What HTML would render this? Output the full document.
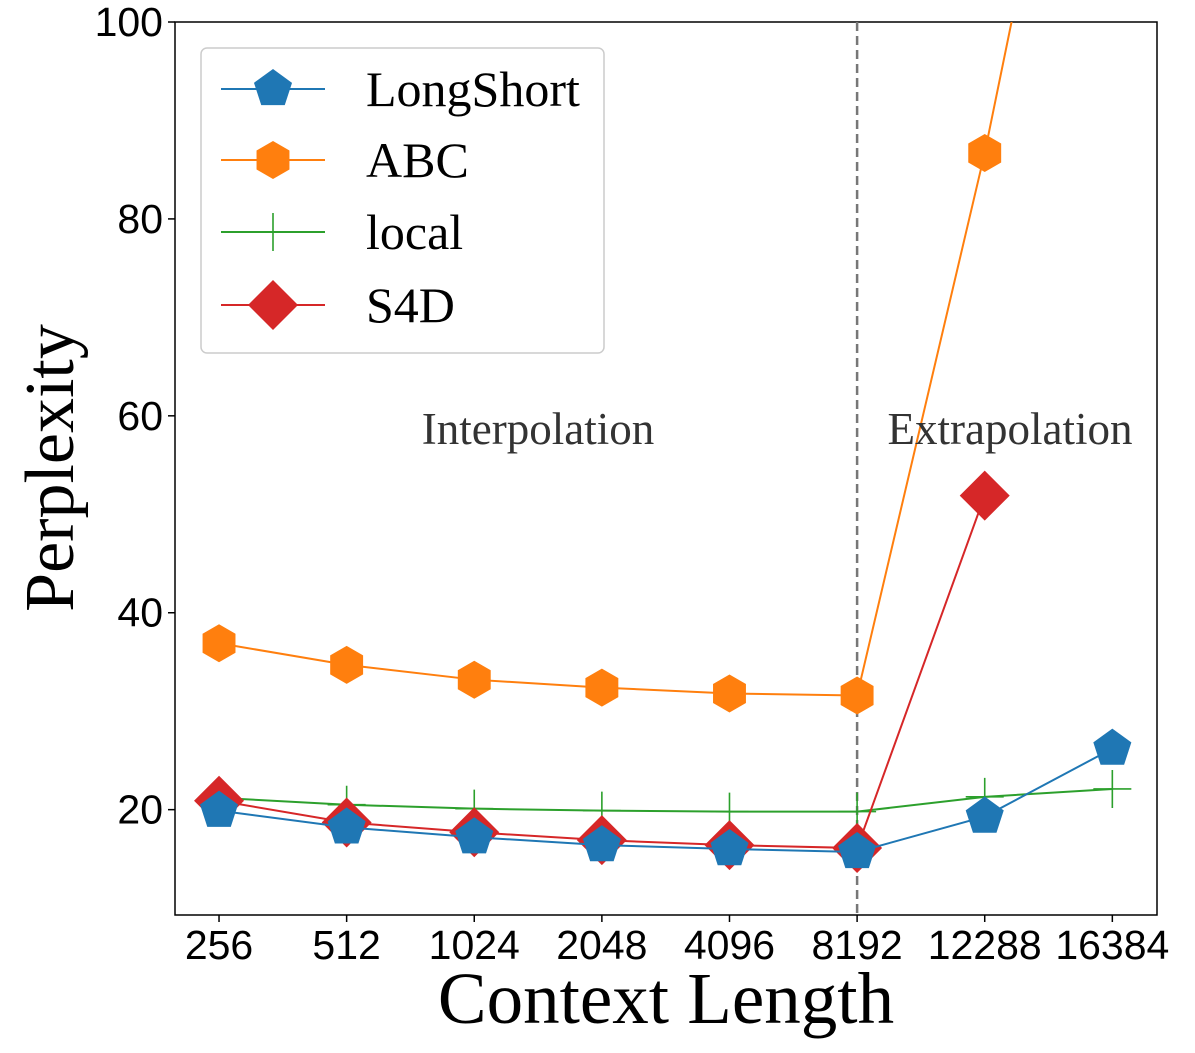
<!DOCTYPE html>
<html><head><meta charset="utf-8"><style>
body{margin:0;background:#fff;}
svg text{font-family:"Liberation Sans",sans-serif;}
.serif{font-family:"Liberation Serif",serif !important;}
</style></head><body>
<svg id="chart" width="1195" height="1048" xmlns="http://www.w3.org/2000/svg"></svg>
<script>
const categories=["256","512","1024","2048","4096","8192","12288","16384"];
const longShort=[19.9,18.2,17.2,16.4,16.0,15.7,19.3,26.2];
const abc=[36.9,34.7,33.2,32.4,31.8,31.6,86.7,150];
const local=[21.2,20.5,20.1,19.9,19.8,19.8,21.3,22.1];
const s4d=[20.9,18.7,17.7,16.9,16.4,16.1,51.9,null];
const yTicks=[20,40,60,80,100];

const L=175,R=1157,T=22,B=915;
const xmin=-0.345,xmax=7.35,ymin=9.3,ymax=100;
const sx=i=>L+(i-xmin)/(xmax-xmin)*(R-L);
const sy=v=>B-(v-ymin)/(ymax-ymin)*(B-T);
const svg=document.getElementById('chart');
const NS="http://www.w3.org/2000/svg";
function mk(tag,attrs,parent){const e=document.createElementNS(NS,tag);for(const k in attrs)e.setAttribute(k,attrs[k]);(parent||svg).appendChild(e);return e;}

const defs=mk('defs',{});const cp=mk('clipPath',{id:'clip'},defs);mk('rect',{x:L,y:T,width:R-L,height:B-T},cp);

const frame=mk('rect',{x:L,y:T,width:R-L,height:B-T,fill:'none',stroke:'#000','stroke-width':1.5});



yTicks.forEach(v=>{
  const y=sy(v);
  const t=mk('line',{x1:L-7,x2:L,y1:y,y2:y,stroke:'#000','stroke-width':1.5});
  
  
  const lb=mk('text',{x:L-12,y:y+14,'text-anchor':'end','font-size':41});
  lb.textContent=v;
  
  
});
categories.forEach((c,i)=>{
  const x=sx(i);
  const t=mk('line',{x1:x,x2:x,y1:B,y2:B+7,stroke:'#000','stroke-width':1.5});
  
  
  const lb=mk('text',{x:x,y:B+44,'text-anchor':'middle','font-size':41});
  lb.textContent=c;
  
  
});

const dv=mk('line',{x1:sx(5),x2:sx(5),y1:T,y2:B,stroke:'#777','stroke-width':2.5,'stroke-dasharray':'9,5'});



function marker(kind,x,y,color,g){
  let e;
  if(kind==='pent'){const r=20;let p=[];for(let k=0;k<5;k++){const a=-Math.PI/2+k*2*Math.PI/5;p.push((x+r*Math.cos(a))+','+(y+r*Math.sin(a)));}e=mk('polygon',{points:p.join(' '),fill:color},g);}
  else if(kind==='hex'){const r=19;let p=[];for(let k=0;k<6;k++){const a=-Math.PI/2+k*Math.PI/3;p.push((x+r*Math.cos(a))+','+(y+r*Math.sin(a)));}e=mk('polygon',{points:p.join(' '),fill:color},g);}
  else if(kind==='plus'){e=mk('path',{d:`M${x-19},${y}H${x+19}M${x},${y-19}V${y+19}`,stroke:color,'stroke-width':1.6},g);}
  else {const r=25;e=mk('polygon',{points:`${x},${y-r} ${x+r},${y} ${x},${y+r} ${x-r},${y}`,fill:color},g);}
  return e;
}
function series(name,data,color,kind){
  const g=mk('g',{'clip-path':'url(#clip)'});
  
  
  const pts=[];data.forEach((v,i)=>{if(v!==null)pts.push([sx(i),sy(v)]);});
  const pl=mk('polyline',{points:pts.map(p=>p.join(',')).join(' '),fill:'none',stroke:color,'stroke-width':2},g);
  
  
  pts.forEach(p=>{const m=marker(kind,p[0],p[1],color,g);
    
    });
}
series('abc',abc,'#ff7f0e','hex');
series('local',local,'#2ca02c','plus');
series('s4d',s4d,'#d62728','diam');
series('longshort',longShort,'#1f77b4','pent');

const a1=mk('text',{x:538,y:444,'text-anchor':'middle','font-size':45,fill:'#333',class:'serif'});a1.textContent='Interpolation';


const a2=mk('text',{x:1010,y:444,'text-anchor':'middle','font-size':45,fill:'#333',class:'serif'});a2.textContent='Extrapolation';



const xt=mk('text',{x:666,y:1023,'text-anchor':'middle','font-size':73,class:'serif'});xt.textContent='Context Length';


const yt=mk('text',{x:0,y:0,'text-anchor':'middle','font-size':70,class:'serif',transform:'translate(73,468) rotate(-90)'});yt.textContent='Perplexity';



const lg=mk('g',{});


mk('rect',{x:201,y:48,width:403,height:305,rx:6,fill:'#fff','fill-opacity':0.85,stroke:'#ccc','stroke-width':1.5},lg);
const items=[['LongShort','#1f77b4','pent',89],['ABC','#ff7f0e','hex',160],['local','#2ca02c','plus',232],['S4D','#d62728','diam',305]];
items.forEach(it=>{
  const g=mk('g',{},lg);
  
  
  mk('line',{x1:221,x2:325,y1:it[3],y2:it[3],stroke:it[1],'stroke-width':2},g);
  marker(it[2],273,it[3],it[1],g);
  const t=mk('text',{x:366,y:it[3]+17,'font-size':50,class:'serif'},g);t.textContent=it[0];
});
</script>
</body></html>
